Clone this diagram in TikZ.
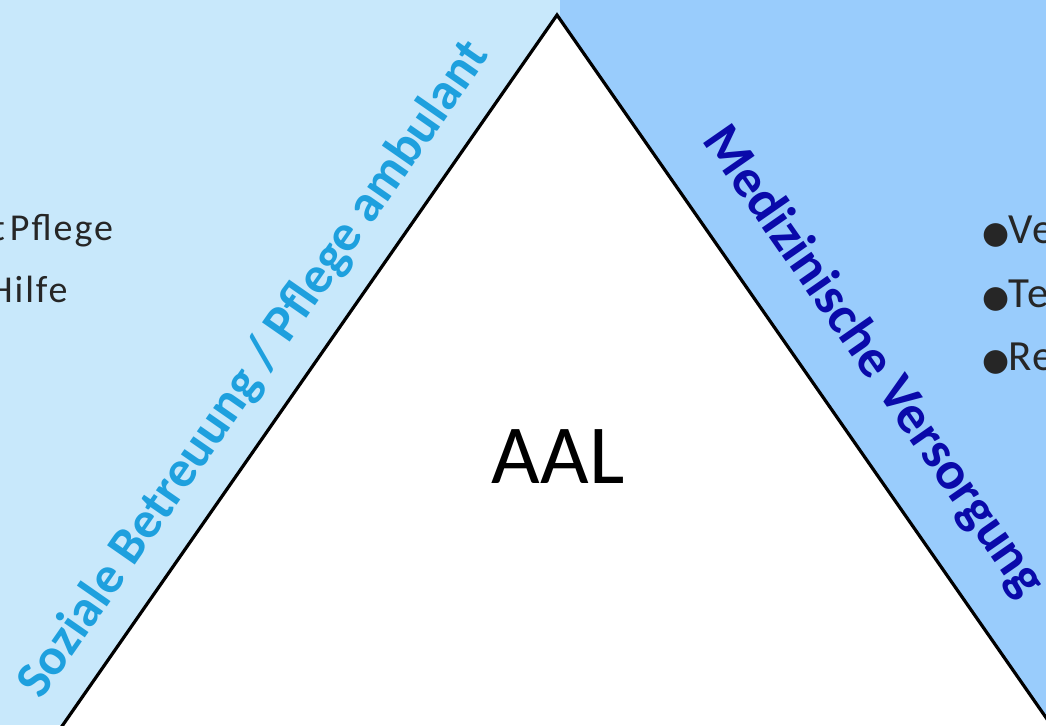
\documentclass[tikz,border=0pt]{standalone}
\usepackage{fontspec}
\setmainfont{Carlito}
\newfontfamily\symfont{DejaVu Sans}
\newfontfamily\listfont[LetterSpace=5]{Carlito}
\definecolor{bgleft}{RGB}{200,232,251}
\definecolor{bgright}{RGB}{153,204,252}
\definecolor{labcyan}{RGB}{30,160,222}
\definecolor{labblue}{RGB}{10,10,170}
\tikzset{
  sidelabel/.style={font=\fontsize{53}{60}\selectfont\bfseries, inner sep=0pt},
  listitem/.style={font=\listfont\fontsize{38}{40}\selectfont, anchor=base west, inner sep=0pt, text=black!85},
  rightitem/.style={listitem, font=\listfont\fontsize{43}{46}\selectfont},
  tri/.style={draw=black, line width=3.2pt, fill=white, line join=miter}
}
\newcommand{\bigdot}{{\symfont\fontsize{31}{31}\selectfont ●}}
\begin{document}
\begin{tikzpicture}[x=1pt, y=-1pt]
\useasboundingbox (0,0) rectangle (1046,725);
\clip (0,0) rectangle (1046,725);
% backgrounds
\fill[bgleft] (0,0) rectangle (560,725);
\fill[bgright] (560,0) rectangle (1046,725);
% triangle
\coordinate (apex) at (557,15);
\coordinate (bl) at (51,742);
\coordinate (br) at (1063,742);
\draw[tri] (apex) -- (br) -- (bl) -- cycle;
% centre label
\node[font=\fontsize{84}{90}\selectfont, inner sep=0pt] (aal) at (558,457) {AAL};
% side labels
\node[sidelabel, text=labcyan, rotate=55.2, font=\fontsize{52}{60}\selectfont\bfseries] (soz) at (254.5,370) {Soziale Betreuung / Pflege ambulant};
\node[sidelabel, text=labblue, rotate=-55.2, font=\fontsize{54}{60}\selectfont\bfseries] (med) at (873,362) {Medizinische Versorgung};
% left list (cut off by the picture edge)
\node[listitem] (l1) at (-8,240) {t\kern5pt Pflege};
\node[listitem] (l2) at (-11,302) {Hilfe};
% right list (cut off by the picture edge)
\node[rightitem] (r1) at (982,243) {\bigdot\kern-1pt Ve};
\node[rightitem] (r2) at (982,307) {\bigdot\kern-1pt Te};
\node[rightitem] (r3) at (982,370) {\bigdot\kern-1pt Re};
\end{tikzpicture}
\end{document}
